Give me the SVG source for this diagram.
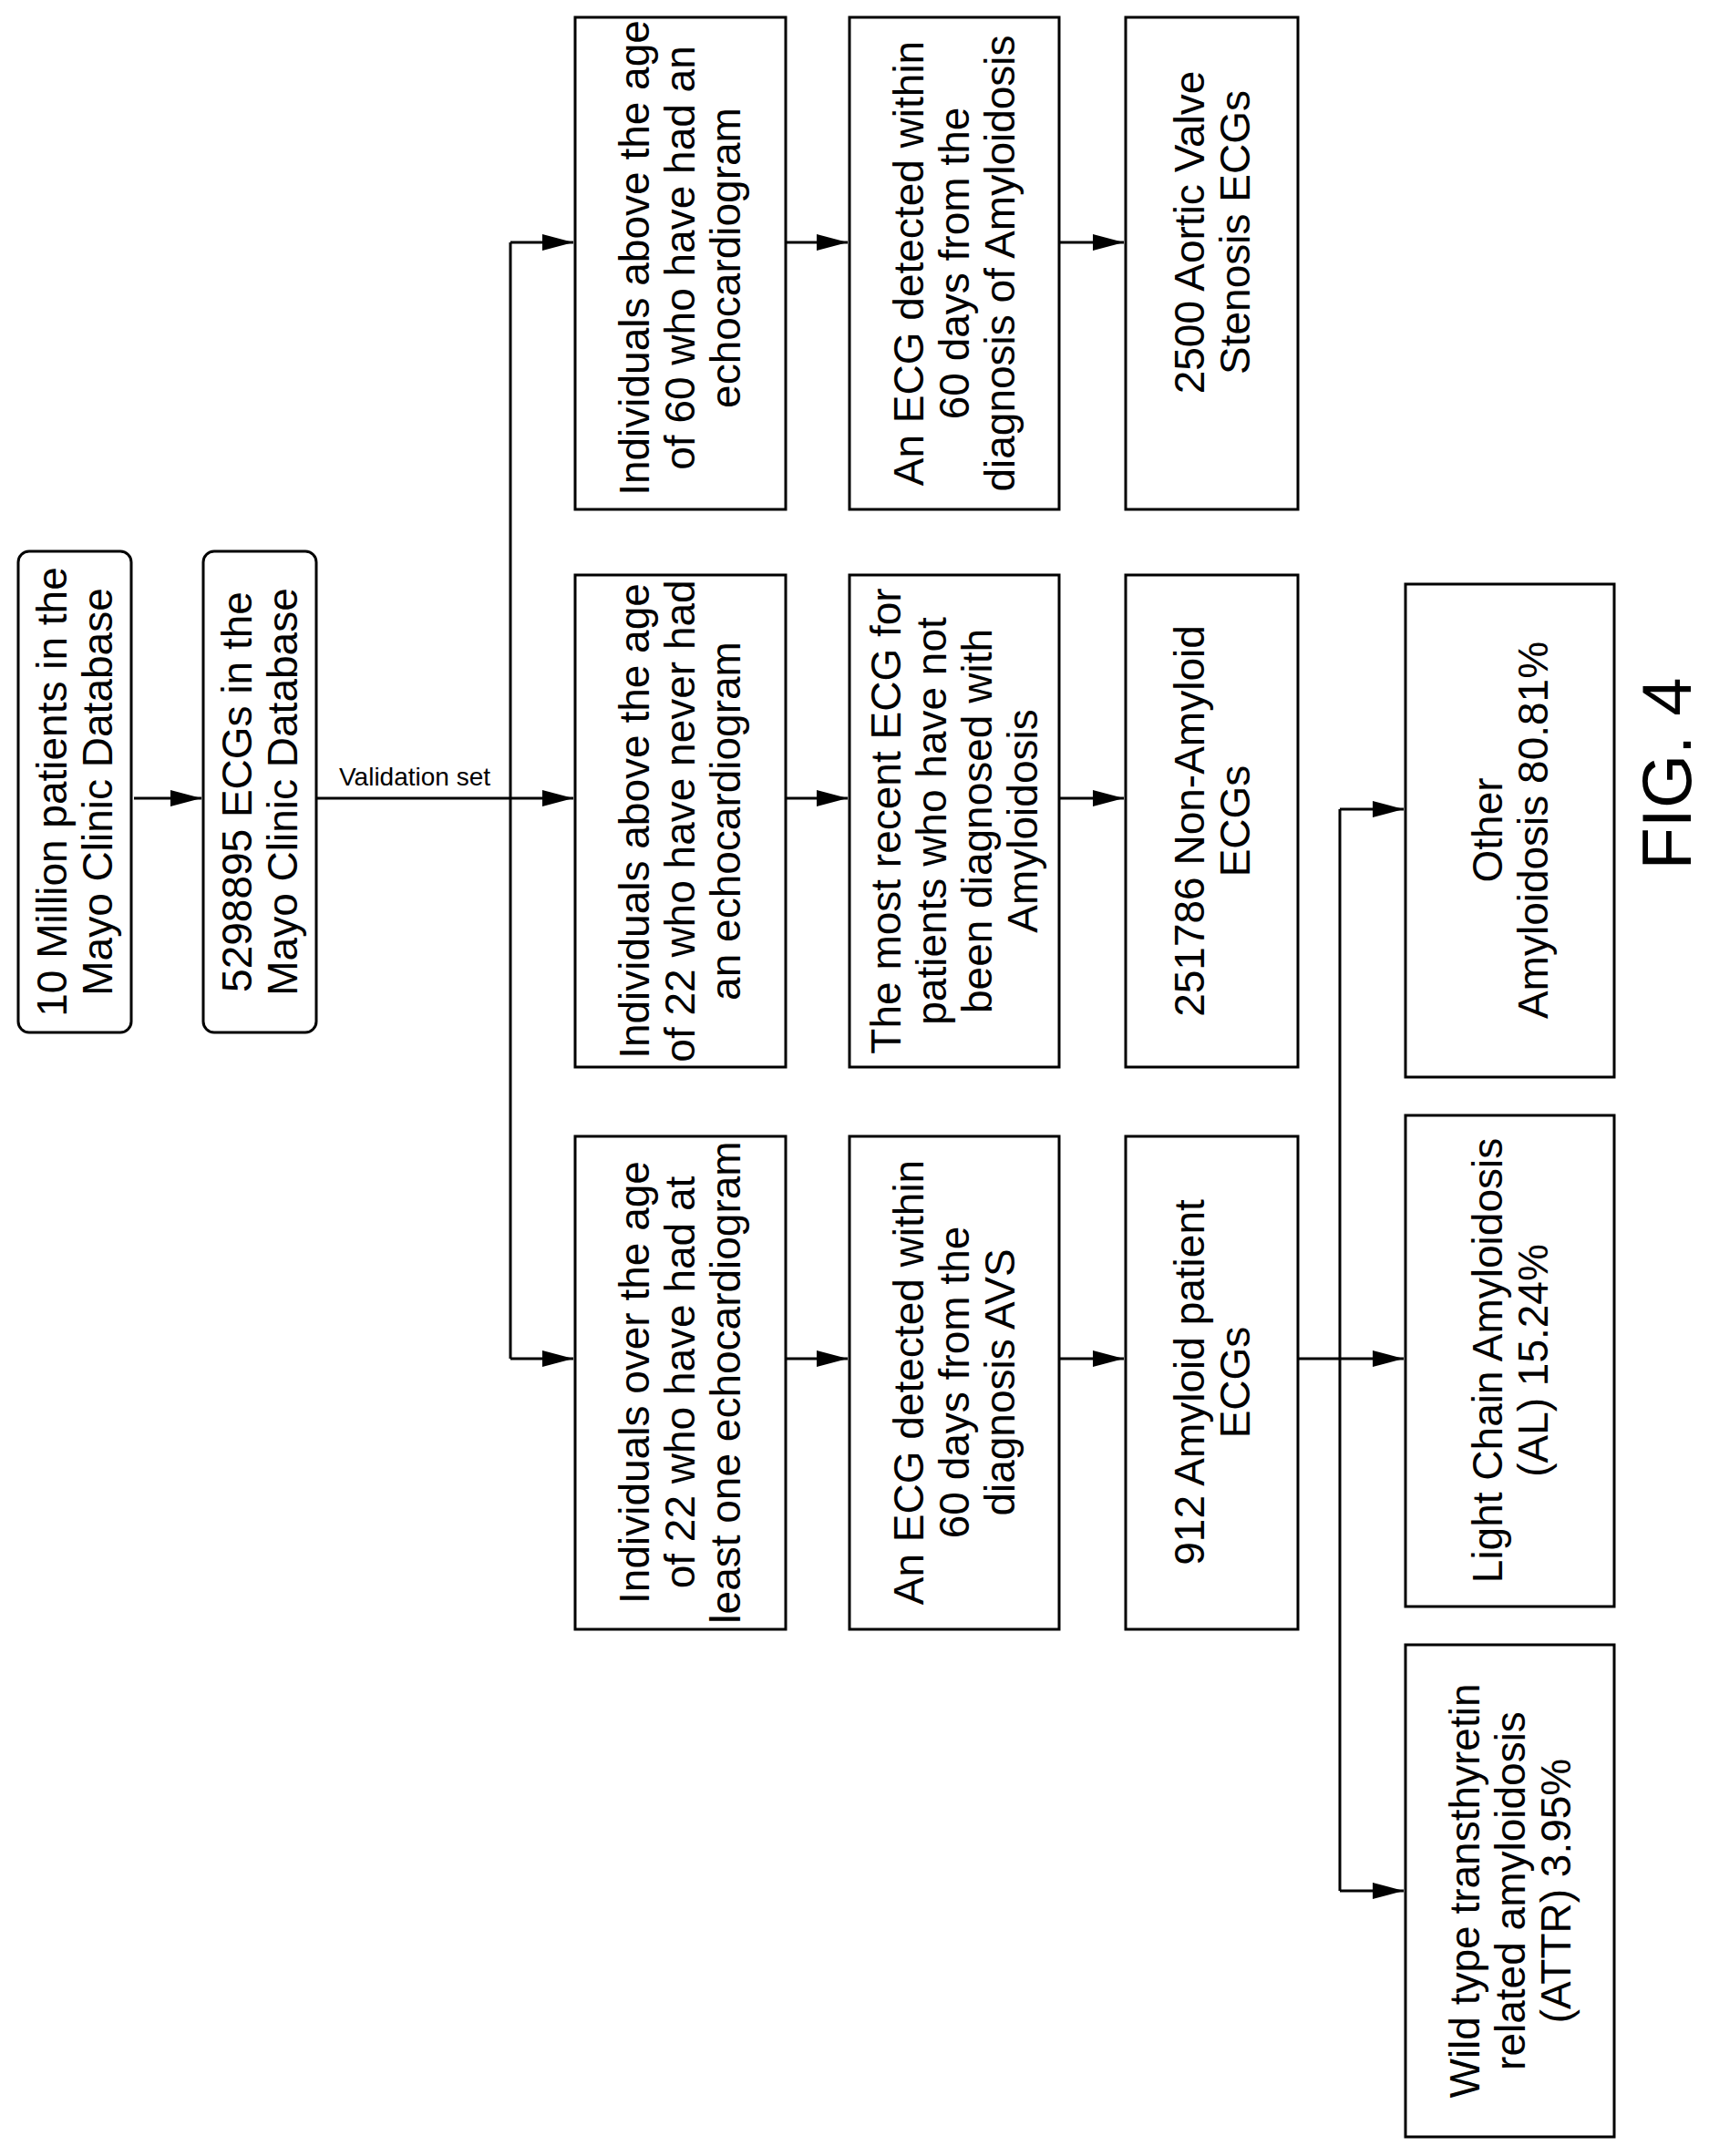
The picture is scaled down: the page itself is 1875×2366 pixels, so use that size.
<svg xmlns="http://www.w3.org/2000/svg" width="1875" height="2366" viewBox="0 0 1875 2366">
<style>
.b{fill:#fff;stroke:#000;stroke-width:3}
.t{font-family:"Liberation Sans",Arial,sans-serif;font-size:46px;text-anchor:middle;fill:#000}
.c{fill:none;stroke:#000;stroke-width:3}
</style>
<defs><marker id="a" markerWidth="34" markerHeight="18" refX="34" refY="9" orient="auto" markerUnits="userSpaceOnUse"><path d="M0,0 L34,9 L0,18 Z" fill="#000"/></marker></defs>
<rect width="1875" height="2366" fill="#fff"/>
<g id="connectors">
<path class="c" d="M147,876 H221" marker-end="url(#a)"/>
<path class="c" d="M347,876 H629" marker-end="url(#a)"/>
<path class="c" d="M560,266 V1491"/>
<path class="c" d="M560,266 H629" marker-end="url(#a)"/>
<path class="c" d="M560,1491 H629" marker-end="url(#a)"/>
<path class="c" d="M862,266 H930" marker-end="url(#a)"/>
<path class="c" d="M862,876 H930" marker-end="url(#a)"/>
<path class="c" d="M862,1491 H930" marker-end="url(#a)"/>
<path class="c" d="M1162,266 H1233" marker-end="url(#a)"/>
<path class="c" d="M1162,876 H1233" marker-end="url(#a)"/>
<path class="c" d="M1162,1491 H1233" marker-end="url(#a)"/>
<path class="c" d="M1424,1491 H1540" marker-end="url(#a)"/>
<path class="c" d="M1470,888 V2075"/>
<path class="c" d="M1470,888 H1540" marker-end="url(#a)"/>
<path class="c" d="M1470,2075 H1540" marker-end="url(#a)"/>
<text x="455" y="862" style="font-family:'Liberation Sans',Arial,sans-serif;font-size:28px;text-anchor:middle">Validation set</text>
</g>
<g id="n1"><rect class="b" x="20" y="605" width="124" height="528" rx="12"/>
<text class="t" transform="translate(82,869) rotate(-90)"><tspan x="0" y="-9">10 Million patients in the</tspan><tspan x="0" y="41">Mayo Clinic Database</tspan></text></g>
<g id="n2"><rect class="b" x="223" y="605" width="124" height="528" rx="12"/>
<text class="t" transform="translate(285,869) rotate(-90)"><tspan x="0" y="-9">5298895 ECGs in the</tspan><tspan x="0" y="41">Mayo Clinic Database</tspan></text></g>
<g id="n3"><rect class="b" x="631" y="19" width="231" height="540"/>
<text class="t" transform="translate(746,283) rotate(-90)"><tspan x="0" y="-34">Individuals above the age</tspan><tspan x="0" y="16">of 60 who have had an</tspan><tspan x="0" y="66">echocardiogram</tspan></text></g>
<g id="n4"><rect class="b" x="631" y="631" width="231" height="540"/>
<text class="t" transform="translate(746,901) rotate(-90)"><tspan x="0" y="-34">Individuals above the age</tspan><tspan x="0" y="16">of 22 who have never had</tspan><tspan x="0" y="66">an echocardiogram</tspan></text></g>
<g id="n5"><rect class="b" x="631" y="1247" width="231" height="541"/>
<text class="t" transform="translate(746,1517) rotate(-90)"><tspan x="0" y="-34">Individuals over the age</tspan><tspan x="0" y="16">of 22 who have had at</tspan><tspan x="0" y="66">least one echocardiogram</tspan></text></g>
<g id="n6"><rect class="b" x="932" y="19" width="230" height="540"/>
<text class="t" transform="translate(1047,289) rotate(-90)"><tspan x="0" y="-34">An ECG detected within</tspan><tspan x="0" y="16">60 days from the</tspan><tspan x="0" y="66">diagnosis of Amyloidosis</tspan></text></g>
<g id="n7"><rect class="b" x="932" y="631" width="230" height="540"/>
<text class="t" transform="translate(1047,901) rotate(-90)"><tspan x="0" y="-59">The most recent ECG for</tspan><tspan x="0" y="-9">patients who have not</tspan><tspan x="0" y="41">been diagnosed with</tspan><tspan x="0" y="91">Amyloidosis</tspan></text></g>
<g id="n8"><rect class="b" x="932" y="1247" width="230" height="541"/>
<text class="t" transform="translate(1047,1517) rotate(-90)"><tspan x="0" y="-34">An ECG detected within</tspan><tspan x="0" y="16">60 days from the</tspan><tspan x="0" y="66">diagnosis AVS</tspan></text></g>
<g id="n9"><rect class="b" x="1235" y="19" width="189" height="540"/>
<text class="t" transform="translate(1330,255) rotate(-90)"><tspan x="0" y="-9">2500 Aortic Valve</tspan><tspan x="0" y="41">Stenosis ECGs</tspan></text></g>
<g id="n10"><rect class="b" x="1235" y="631" width="189" height="540"/>
<text class="t" transform="translate(1330,901) rotate(-90)"><tspan x="0" y="-9">251786 Non-Amyloid</tspan><tspan x="0" y="41">ECGs</tspan></text></g>
<g id="n11"><rect class="b" x="1235" y="1247" width="189" height="541"/>
<text class="t" transform="translate(1330,1517) rotate(-90)"><tspan x="0" y="-9">912 Amyloid patient</tspan><tspan x="0" y="41">ECGs</tspan></text></g>
<g id="n12"><rect class="b" x="1542" y="641" width="229" height="541"/>
<text class="t" transform="translate(1657,911) rotate(-90)"><tspan x="0" y="-9">Other</tspan><tspan x="0" y="41">Amyloidosis 80.81%</tspan></text></g>
<g id="n13"><rect class="b" x="1542" y="1224" width="229" height="539"/>
<text class="t" transform="translate(1657,1493) rotate(-90)"><tspan x="0" y="-9">Light Chain Amyloidosis</tspan><tspan x="0" y="41">(AL) 15.24%</tspan></text></g>
<g id="n14"><rect class="b" x="1542" y="1805" width="229" height="540"/>
<text class="t" transform="translate(1657,2075) rotate(-90)"><tspan x="0" y="-34">Wild type transthyretin</tspan><tspan x="0" y="16">related amyloidosis</tspan><tspan x="0" y="66">(ATTR) 3.95%</tspan></text></g>
<text transform="translate(1855,849) rotate(-90)" style="font-family:'Liberation Sans',Arial,sans-serif;font-size:76px;text-anchor:middle">FIG. 4</text>
</svg>
